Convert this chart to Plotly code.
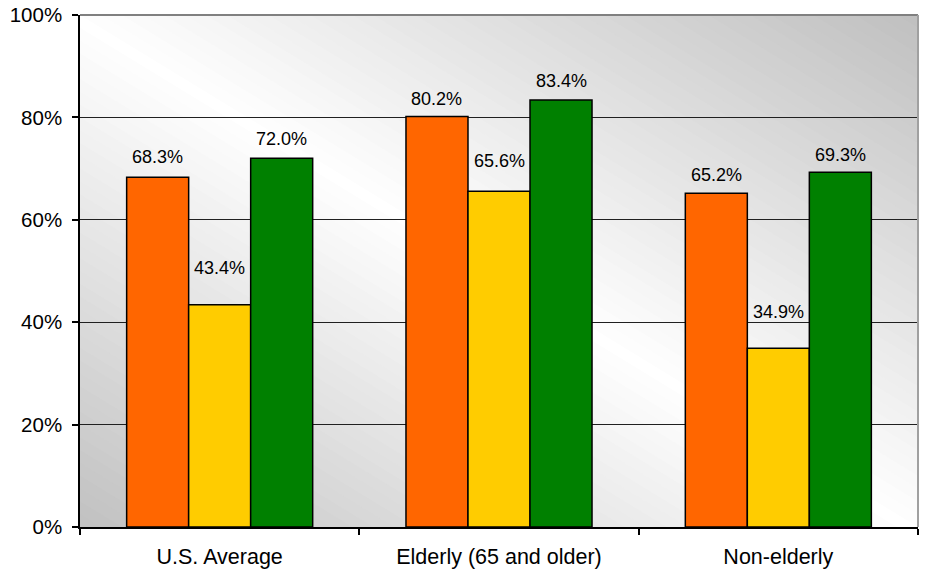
import plotly.graph_objects as go

categories = ["U.S. Average", "Elderly (65 and older)", "Non-elderly"]
series_names = ["Series A", "Series B", "Series C"]
series_values = [
    [68.3, 80.2, 65.2],
    [43.4, 65.6, 34.9],
    [72.0, 83.4, 69.3],
]
series_colors = ["#FF6600", "#FFCC00", "#008000"]
# px lift of each value label above its bar top (labels placed by hand in the original)
label_lift = [
    [8, 5, 6],
    [25, 18, 24],
    [7, 7, 5],
]
y_tickvals = [0, 20, 40, 60, 80, 100]
y_ticktext = ["0%", "20%", "40%", "60%", "80%", "100%"]

W, H = 928, 571
ML, MR, MT, MB = 80, 10, 15, 44
BARGAP = 0.334

fig = go.Figure()
for name, vals, col in zip(series_names, series_values, series_colors):
    fig.add_trace(go.Bar(
        x=categories, y=vals, name=name,
        marker=dict(color=col, line=dict(color="#000000", width=1.5)),
        hoverinfo="x+y",
    ))

# value labels
cat_w = (W - ML - MR) / len(categories)
bar_w = cat_w * (1 - BARGAP) / len(series_values)
annotations = []
for si, vals in enumerate(series_values):
    xs = (si - (len(series_values) - 1) / 2) * bar_w
    for ci, (c, v) in enumerate(zip(categories, vals)):
        annotations.append(dict(
            x=c, y=v, xref="x", yref="y", text=f"{v:.1f}%",
            showarrow=False, xshift=xs, yshift=label_lift[si][ci],
            yanchor="bottom", xanchor="center",
            font=dict(family="Liberation Sans, Arial", size=18, color="#000000"),
        ))

# diagonal gradient background (gray - white - gray)
shapes = []
N = 80
for k in range(N, 0, -1):
    s = 2.0 * k / N
    g = int(round(192 + 63 * (1 - abs(s - 1))))
    col = f"rgb({g},{g},{g})"
    if s <= 1:
        path = f"M 0 0 L {s} 0 L 0 {s} Z"
    else:
        path = f"M 0 0 L 1 0 L 1 {s-1} L {s-1} 1 L 0 1 Z"
    shapes.append(dict(type="path", path=path, xref="paper", yref="paper",
                       fillcolor=col, line=dict(width=0), layer="below"))
# top and right frame (gray)
shapes.append(dict(type="line", x0=0, x1=1, y0=1, y1=1, xref="paper", yref="paper",
                   line=dict(color="#808080", width=2), layer="above"))
shapes.append(dict(type="line", x0=1, x1=1, y0=0, y1=1, xref="paper", yref="paper",
                   line=dict(color="#a0a0a0", width=2), layer="above"))

fig.update_layout(
    width=W, height=H,
    margin=dict(l=ML, r=MR, t=MT, b=MB, autoexpand=False),
    barmode="group", bargap=BARGAP, bargroupgap=0,
    showlegend=False,
    paper_bgcolor="#ffffff", plot_bgcolor="rgba(0,0,0,0)",
    font=dict(family="Liberation Sans, Arial", size=20, color="#000000"),
    shapes=shapes, annotations=annotations,
    xaxis=dict(
        showline=True, linecolor="#000000", linewidth=1.5,
        ticks="outside", tickson="boundaries", ticklen=6, tickcolor="#000000",
        tickwidth=1.5, showgrid=False, ticklabelstandoff=9,
        tickfont=dict(size=21.5), automargin=False,
    ),
    yaxis=dict(
        range=[0, 100], tickvals=y_tickvals, ticktext=y_ticktext,
        showline=True, linecolor="#000000", linewidth=1.5,
        ticks="outside", ticklen=6, tickcolor="#000000", tickwidth=1.5,
        showgrid=True, gridcolor="#202020", gridwidth=1,
        zeroline=False, ticklabelstandoff=6,
        tickfont=dict(size=20.5), automargin=False,
    ),
)

fig.write_html("out.html")
